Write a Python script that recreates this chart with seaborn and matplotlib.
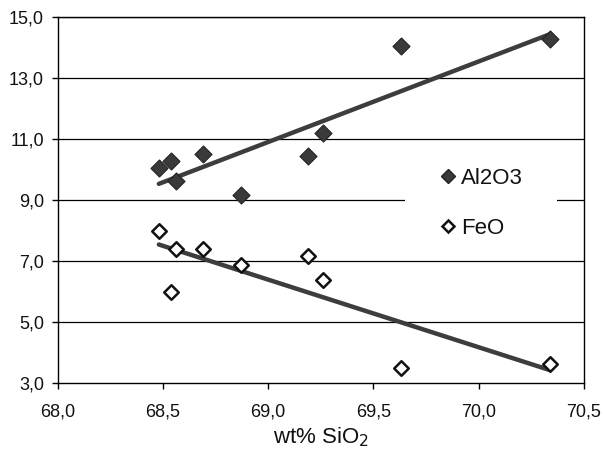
import matplotlib
matplotlib.use("Agg")
import matplotlib.pyplot as plt
import matplotlib.transforms as mtransforms
from matplotlib.patches import Rectangle
import seaborn as sns
import pandas as pd
from matplotlib.lines import Line2D
from matplotlib.ticker import FuncFormatter

sio2 = [68.48, 68.54, 68.56, 68.69, 68.87, 69.19, 69.26, 69.63, 70.34]
al2o3 = [10.05, 10.28, 9.62, 10.5, 9.18, 10.43, 11.2, 14.05, 14.28]
feo = [7.97, 5.99, 7.38, 7.38, 6.88, 7.16, 6.38, 3.5, 3.62]
x_ticks = [68.0, 68.5, 69.0, 69.5, 70.0, 70.5]
y_ticks = [3.0, 5.0, 7.0, 9.0, 11.0, 13.0, 15.0]

df = pd.DataFrame({"SiO2": sio2, "Al2O3": al2o3, "FeO": feo})

sns.set_style("white")
plt.rcParams["font.family"] = ["Liberation Sans", "DejaVu Sans"]
plt.rcParams["text.color"] = "#111111"
plt.rcParams["xtick.color"] = "#111111"
plt.rcParams["ytick.color"] = "#111111"
plt.rcParams["axes.labelcolor"] = "#111111"

fig = plt.figure(figsize=(6.03, 4.53), dpi=100)
ax = fig.add_axes([0.096, 0.1545, 0.872, 0.808])

line_col = "#3d3d3d"
for y in y_ticks[1:]:
    ax.axhline(y, color="black", lw=0.9, zorder=0)

# white legend background interrupting the 9,0 gridline
trans = mtransforms.blended_transform_factory(ax.transAxes, ax.transData)
ax.add_patch(Rectangle((0.66, 8.6), 0.289, 0.8, transform=trans,
                       facecolor="white", edgecolor="none", zorder=1))

sns.regplot(data=df, x="SiO2", y="Al2O3", scatter=False, ci=None, truncate=True,
            ax=ax, line_kws=dict(color=line_col, lw=3.2, zorder=2))
sns.regplot(data=df, x="SiO2", y="FeO", scatter=False, ci=None, truncate=True,
            ax=ax, line_kws=dict(color=line_col, lw=3.2, zorder=2))

sns.scatterplot(data=df, x="SiO2", y="Al2O3", marker="D", s=75, color="#3a3a3a",
                edgecolor="#222222", linewidth=0.8, ax=ax, zorder=3)
sns.scatterplot(data=df, x="SiO2", y="FeO", marker="D", s=55, facecolor="white",
                edgecolor="#111111", linewidth=1.8, ax=ax, zorder=3)

ax.set_xlim(68.0, 70.5)
ax.set_ylim(3.0, 15.0)
ax.set_xticks(x_ticks)
ax.set_yticks(y_ticks)
fmt = FuncFormatter(lambda v, p: f"{v:.1f}".replace(".", ","))
ax.xaxis.set_major_formatter(fmt)
ax.yaxis.set_major_formatter(fmt)
ax.tick_params(axis="both", labelsize=13, length=4, width=1, direction="out",
               color="black", left=True, bottom=True, pad=6)
ax.tick_params(axis="x", pad=11)
for sp in ax.spines.values():
    sp.set_color("black")
    sp.set_linewidth(1.0)
    sp.set_visible(True)

ax.set_xlabel("wt% SiO$_2$", fontsize=16, labelpad=3)
ax.set_ylabel("")

handles = [
    Line2D([], [], marker="D", ls="none", markersize=7, markerfacecolor="#3a3a3a",
           markeredgecolor="#222222"),
    Line2D([], [], marker="D", ls="none", markersize=6, markerfacecolor="white",
           markeredgecolor="#111111", markeredgewidth=1.8),
]
leg = ax.legend(handles, ["Al2O3", "FeO"], loc="center left",
                bbox_to_anchor=(0.695, 0.49), fontsize=16, frameon=False,
                handlelength=0.6, handletextpad=0.3, labelspacing=1.3,
                borderpad=0.8, borderaxespad=0)

fig.savefig("out.png", dpi=100)
